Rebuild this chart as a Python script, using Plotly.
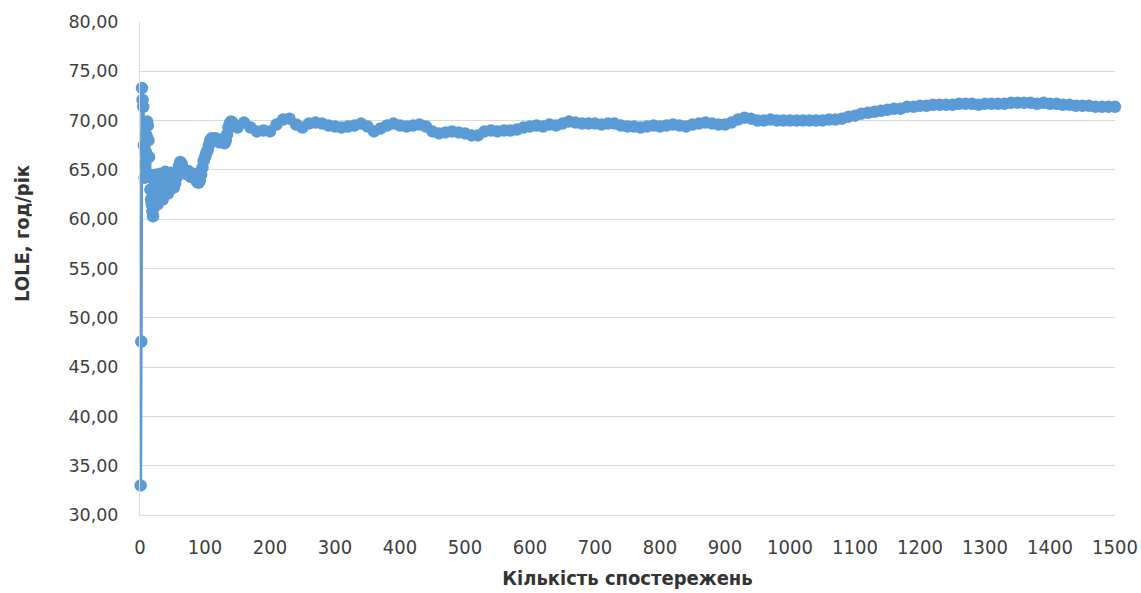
import plotly.graph_objects as go

obs_early = list(range(1, 51)) + list(range(52, 150, 2))
lole_early = [
    33.0, 47.6, 73.3, 72.1, 71.4, 67.5, 64.2, 65.5, 66.8, 68.5,
    69.9, 69.5, 68.0, 66.3, 64.5, 63.0, 62.0, 61.5, 60.8, 60.3,
    61.2, 62.5, 63.8, 64.5, 63.5, 62.3, 61.5, 62.0, 63.0, 64.0,
    64.6, 64.2, 63.2, 62.5, 62.0, 62.8, 63.8, 64.5, 64.8, 64.2,
    63.5, 63.0, 62.6, 63.0, 63.6, 64.3, 64.7, 64.5, 64.0, 63.4,
    # step 2 from 52
    63.2, 63.6, 64.2, 64.8, 65.4, 65.8, 65.6, 65.2, 64.8, 64.6,
    64.8, 64.9, 64.6, 64.3, 64.5, 64.6, 64.2, 64.0, 63.8, 63.7,
    63.9, 64.5, 65.2, 65.9, 66.3, 66.7, 67.0, 67.5, 68.0, 68.2,
    68.1, 68.0, 68.2, 68.1, 67.9, 67.8, 68.0, 68.1, 67.8, 67.7,
    68.0, 68.6, 69.3, 69.7, 69.9, 69.8, 69.6, 69.5, 69.4,
]
obs_late = list(range(150, 1501, 10))
lole_late = [
    69.3, 69.8, 69.3, 68.9, 69.0, 68.9, 69.6, 70.1, 70.2, 69.6,
    69.3, 69.7, 69.8, 69.7, 69.5, 69.4, 69.3, 69.4, 69.5, 69.7,
    69.4, 68.9, 69.2, 69.5, 69.7, 69.5, 69.4, 69.5, 69.6, 69.4,
    68.9, 68.7, 68.8, 68.9, 68.8, 68.7, 68.5, 68.5, 68.9, 69.0,
    68.9, 69.0, 69.0, 69.1, 69.3, 69.4, 69.5, 69.4, 69.6, 69.5,
    69.7, 69.9, 69.8, 69.7, 69.7, 69.7, 69.6, 69.7, 69.7, 69.5,
    69.4, 69.4, 69.3, 69.4, 69.5, 69.4, 69.5, 69.6, 69.5, 69.4,
    69.6, 69.7, 69.8, 69.7, 69.6, 69.6, 69.8, 70.1, 70.3, 70.2,
    70.0, 70.0, 70.1, 70.0, 70.0, 70.0, 70.0, 70.0, 70.0, 70.0,
    70.0, 70.1, 70.1, 70.2, 70.4, 70.5, 70.7, 70.8, 70.9, 71.0,
    71.1, 71.2, 71.2, 71.4, 71.4, 71.5, 71.5, 71.6, 71.6, 71.6,
    71.6, 71.7, 71.7, 71.7, 71.6, 71.7, 71.7, 71.7, 71.7, 71.8,
    71.8, 71.8, 71.8, 71.7, 71.8, 71.7, 71.7, 71.6, 71.6, 71.5,
    71.5, 71.5, 71.4, 71.4, 71.4, 71.4,
]
obs = obs_early + obs_late
lole = lole_early + lole_late

x_ticks = list(range(0, 1501, 100))
y_ticks = list(range(30, 81, 5))

x_title = "Кількість спостережень"
y_title = "LOLE, год/рік"

color = "#5b9bd5"
grid = "#d9d9d9"

fig = go.Figure()
fig.add_trace(go.Scatter(
    x=obs, y=lole, mode="lines+markers",
    line=dict(color=color, width=3),
    marker=dict(color=color, size=12.5),
    showlegend=False, hoverinfo="skip", cliponaxis=False,
))

fig.update_layout(
    width=1141, height=593,
    margin=dict(l=140, r=26, t=22, b=78),
    paper_bgcolor="white", plot_bgcolor="white",
    separators=", ",
    xaxis=dict(
        range=[0, 1500], tickvals=x_ticks, automargin=False,
        showgrid=False, zeroline=False,
        showline=True, linecolor=grid, linewidth=1,
        ticks="", ticklabelstandoff=14,
        tickfont=dict(family="DejaVu Sans Condensed", size=20, color="#404040"),
        title=dict(text="<b>" + x_title + "</b>", standoff=12,
                   font=dict(family="DejaVu Sans Condensed", size=20, color="#333333")),
    ),
    yaxis=dict(
        range=[30, 80], tickvals=y_ticks, tickformat=".2f", automargin=False,
        showgrid=True, gridcolor=grid, gridwidth=1, zeroline=False,
        showline=True, linecolor=grid, linewidth=1,
        ticks="", ticklabelstandoff=17,
        tickfont=dict(family="DejaVu Sans", size=17.5, color="#404040"),
    ),
    annotations=[dict(
        text="<b>" + y_title + "</b>", textangle=-90,
        xref="paper", yref="paper", x=-0.121, y=0.57,
        xanchor="center", yanchor="middle", showarrow=False,
        font=dict(family="DejaVu Sans Condensed", size=20, color="#333333"),
    )],
)

fig.write_html(
    "out.html",
    config={"displayModeBar": False},
    post_script="document.body.style.margin='0';document.body.style.overflow='hidden';",
)
